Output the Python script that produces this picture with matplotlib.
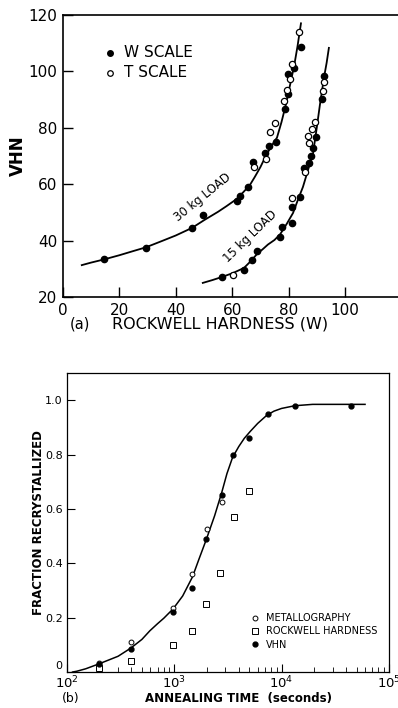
import numpy as np
import matplotlib.pyplot as plt
import matplotlib.transforms as mtransforms

plt.rcParams['font.family'] = ['DejaVu Sans']
plt.rcParams['mathtext.default'] = 'regular'

# ---- (a) VHN vs Rockwell hardness ----
w30_x = [14.5, 29.4, 45.8, 49.6, 61.6, 62.8, 65.6, 67.4, 71.6, 73.0, 75.5, 78.7, 79.8, 79.8, 81.9, 84.4]
w30_y = [33.5, 37.4, 44.5, 49.1, 54.0, 55.8, 59.0, 67.9, 71.0, 73.5, 75.0, 86.7, 92.0, 99.1, 101.2, 108.7]
t30_x = [67.7, 72.0, 73.4, 75.2, 78.4, 79.4, 80.5, 81.2, 83.7]
t30_y = [66.0, 68.9, 78.5, 81.7, 89.5, 93.4, 97.3, 102.6, 114.0]

w15_x = [56.4, 64.2, 67.0, 68.8, 77.0, 77.7, 81.2, 81.2, 84.0, 85.5, 87.2, 87.9, 88.7, 89.7, 91.8, 92.6]
w15_y = [27.1, 29.6, 33.1, 36.3, 41.3, 44.8, 46.2, 51.9, 55.5, 65.7, 67.5, 70.0, 72.8, 76.7, 90.2, 98.4]
t15_x = [60.3, 81.2, 85.8, 86.9, 87.2, 88.3, 89.4, 92.2, 92.6]
t15_y = [27.8, 55.1, 64.3, 77.0, 74.6, 79.6, 82.0, 93.0, 96.2]

# fitted curves
curve30_x = [6.7, 10, 14.5, 20, 25, 29.4, 35, 40, 45.8, 50, 55, 58, 61.7, 64, 66.3, 68, 70,
             71.6, 73.5, 75.9, 77.5, 79, 80.5, 82, 83.2, 84.4]
curve30_y = [31.3, 32.2, 33.3, 34.8, 36.3, 37.6, 39.8, 41.8, 44.5, 47.2, 50.2, 52.2, 54.8, 57.2,
             59.7, 62.5, 66.0, 69.3, 72.8, 76.5, 82.0, 88.0, 95.0, 102.0, 109.0, 117.0]
curve15_x = [49.6, 53, 56.4, 60.3, 64.2, 66.5, 68.8, 70.8, 72.7, 75, 77, 79.4, 81.6, 83.3, 85.1,
             86.9, 88.7, 90.0, 91.1, 92.6, 93.5, 94.3]
curve15_y = [25.0, 26.0, 27.1, 28.5, 30.3, 32.6, 35.2, 36.9, 38.6, 40.2, 42.2, 46.0, 49.8, 54.4,
             59.0, 65.0, 71.0, 80.0, 88.0, 98.0, 103.0, 108.3]

# ---- (b) fraction recrystallized vs annealing time ----
met_t = [199, 394, 980, 1480, 2000, 2770]
met_f = [0.035, 0.11, 0.235, 0.36, 0.525, 0.625]
rock_t = [199, 394, 980, 1460, 1970, 2700, 3600, 5000]
rock_f = [0.015, 0.04, 0.10, 0.15, 0.25, 0.365, 0.57, 0.665]
vhn_t = [199, 394, 980, 1480, 1990, 2770, 3550, 5000, 7440, 13300, 44600]
vhn_f = [0.03, 0.085, 0.22, 0.31, 0.49, 0.65, 0.80, 0.86, 0.95, 0.98, 0.98]

curve_t = [113, 124, 150, 199, 300, 394, 500, 594, 700, 800, 975, 1200, 1480, 1700, 1980, 2380,
           2770, 3100, 3500, 4000, 4500, 5100, 6000, 7300, 8500, 10000, 13300, 19500, 30000, 60000]
curve_f = [0.0, 0.003, 0.012, 0.03, 0.058, 0.088, 0.12, 0.152, 0.178, 0.198, 0.232, 0.28, 0.35,
           0.415, 0.485, 0.575, 0.66, 0.73, 0.79, 0.83, 0.86, 0.885, 0.915, 0.945, 0.96, 0.97,
           0.98, 0.985, 0.985, 0.985]

fig = plt.figure(figsize=(3.98, 7.08), dpi=100)

# top panel
ax1 = fig.add_axes([0.158, 0.5805, 0.842, 0.3985])
ax1.plot(curve30_x, curve30_y, color='black', lw=1.3)
ax1.plot(curve15_x, curve15_y, color='black', lw=1.3)
ax1.plot(w30_x, w30_y, 'o', color='black', ms=4.5)
ax1.plot(w15_x, w15_y, 'o', color='black', ms=4.5)
ax1.plot(t30_x, t30_y, 'o', mfc='white', mec='black', ms=4.5, mew=0.9)
ax1.plot(t15_x, t15_y, 'o', mfc='white', mec='black', ms=4.5, mew=0.9)
ax1.set_xlim(0, 118.8)
ax1.set_ylim(20, 120)
ax1.set_xticks([0, 20, 40, 60, 80, 100])
ax1.set_yticks([20, 40, 60, 80, 100, 120])
ax1.tick_params(direction='in', length=7, width=1, labelsize=11, pad=4)
ax1.spines['right'].set_visible(False)
for s in ['left', 'top', 'bottom']:
    ax1.spines[s].set_linewidth(1.2)
ax1.set_ylabel('VHN', fontsize=12, fontweight='bold', labelpad=1)
ax1.text(0.02, -0.095, '(a)', transform=ax1.transAxes, fontsize=10.5, va='center')
ax1.text(0.47, -0.095, 'ROCKWELL HARDNESS (W)', transform=ax1.transAxes,
         fontsize=11.5, va='center', ha='center')
# legend
ax1.plot([16.7], [106.5], 'o', color='black', ms=4)
ax1.plot([16.7], [99.4], 'o', mfc='white', mec='black', ms=4, mew=0.9)
ax1.text(21.6, 106.5, 'W SCALE', fontsize=11, va='center')
ax1.text(21.6, 99.4, 'T SCALE', fontsize=11, va='center')
# curve labels
ax1.text(49.6, 55.5, '30 kg LOAD', fontsize=8.5, rotation=39, ha='center', va='center')
ax1.text(66.3, 41.5, '15 kg LOAD', fontsize=8.5, rotation=44, ha='center', va='center')

# bottom panel
ax2 = fig.add_axes([0.168, 0.0508, 0.809, 0.4222])
ax2.plot(curve_t, curve_f, color='black', lw=1.1)
ax2.plot(met_t, met_f, 'o', mfc='white', mec='black', ms=3.5, mew=0.7, label='METALLOGRAPHY')
ax2.plot(rock_t, rock_f, 's', mfc='white', mec='black', ms=4, mew=0.7, label='ROCKWELL HARDNESS')
ax2.plot(vhn_t, vhn_f, 'o', color='black', ms=3.5, label='VHN')
ax2.set_xscale('log')
ax2.set_xlim(1e2, 1e5)
ax2.set_ylim(0, 1.1)
ax2.set_xticks([1e2, 1e3, 1e4, 1e5])
ax2.set_xticklabels(['$10^2$', '$10^3$', '$10^4$', '$10^5$'])
ax2.set_yticks([0, 0.2, 0.4, 0.6, 0.8, 1.0])
ax2.set_yticklabels(['0', '0.2', '0.4', '0.6', '0.8', '1.0'])
ax2.tick_params(direction='in', length=6, width=0.8, pad=3)
ax2.tick_params(axis='x', labelsize=9.5, pad=2)
ax2.tick_params(axis='y', labelsize=8)
ax2.tick_params(which='minor', direction='in', length=3.5, width=0.6)
ax2.tick_params(axis='y', which='minor', left=False)
for s in ax2.spines.values():
    s.set_linewidth(0.9)
# lift the "0" label a little, as in the original
zero_lbl = ax2.get_yticklabels()[0]
zero_lbl.set_transform(zero_lbl.get_transform() +
                       mtransforms.ScaledTranslation(0, 5 / 72, fig.dpi_scale_trans))
ax2.set_ylabel('FRACTION RECRYSTALLIZED', fontsize=8.5, fontweight='bold', labelpad=0)
fig.text(0.598, 0.014, 'ANNEALING TIME  (seconds)', fontsize=8.5, fontweight='bold',
         ha='center', va='center')
fig.text(0.178, 0.014, '(b)', fontsize=9, ha='center', va='center')
ax2.legend(loc='lower right', bbox_to_anchor=(0.99, 0.045), frameon=False, fontsize=7,
           handletextpad=0.5, handlelength=1.2, labelspacing=0.35)

fig.savefig('out.png', dpi=100)
